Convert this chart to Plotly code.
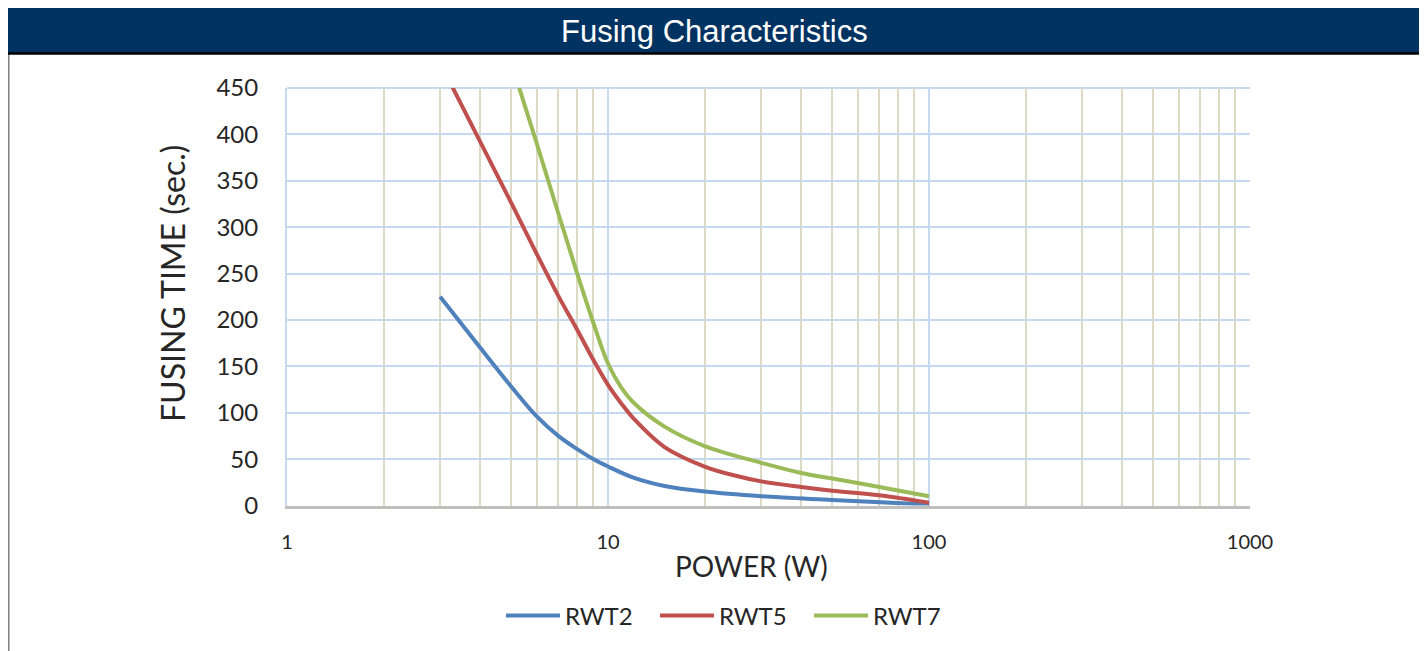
import plotly.graph_objects as go

# ---- data ----
rwt2_x = [3, 4, 5, 6, 7, 8, 9, 10, 12, 15, 20, 30, 50, 100]
rwt2_y = [225, 170, 128, 96, 75, 61, 50, 42, 30, 21, 15, 10, 6, 1]

rwt5_x = [3, 4, 5, 6, 7, 8, 9, 10, 11, 12, 15, 20, 25, 30, 40, 50, 70, 100]
rwt5_y = [477, 392, 326, 271, 226, 190, 157, 130, 110, 94, 63, 42, 32, 26, 20, 16, 11, 3]

rwt7_x = [5, 6, 7, 8, 9, 10, 11, 12, 15, 20, 30, 40, 50, 70, 100]
rwt7_y = [477, 390, 315, 251, 197, 153, 127, 111, 85, 64, 46, 35, 29, 20, 10]

series_names = ["RWT2", "RWT5", "RWT7"]
series_colors = ["#4f81bd", "#c0504d", "#9bbb59"]

x_tick_vals = [1, 10, 100, 1000]
x_tick_text = ["1", "10", "100", "1000"]

title_text = "Fusing Characteristics"
x_title = "POWER (W)"
y_title = "FUSING TIME (sec.)"

# ---- page geometry: the page body has an 8px margin ----
O = 8
W, H = 1427 - O, 651 - O

def px(x):
    return (x - O) / W

def py(y):
    return 1 - (y - O) / H

PLOT_L, PLOT_R, PLOT_T, PLOT_B = 287, 1250, 88, 505.5
FONT = "Lato"

fig = go.Figure()
for xs, ys, name, col in zip([rwt2_x, rwt5_x, rwt7_x], [rwt2_y, rwt5_y, rwt7_y],
                             series_names, series_colors):
    fig.add_trace(go.Scatter(x=xs, y=ys, name=name, mode="lines",
                             line=dict(color=col, width=4, shape="spline", smoothing=1.0)))

fig.update_layout(
    width=W, height=H,
    template="none",
    paper_bgcolor="white", plot_bgcolor="white",
    margin=dict(l=0, r=0, t=0, b=0),
    showlegend=True,
    legend=dict(orientation="h", x=px(501), xanchor="left", y=py(616), yanchor="middle",
                font=dict(family=FONT, size=24, color="#262626"),
                itemwidth=54, entrywidth=85, entrywidthmode="pixels",
                tracegroupgap=0, bgcolor="rgba(0,0,0,0)"),
    xaxis=dict(
        type="log", range=[0, 3], domain=[px(PLOT_L), px(PLOT_R)],
        tickvals=x_tick_vals, ticktext=x_tick_text,
        ticks="outside", ticklen=16, tickcolor="rgba(0,0,0,0)",
        tickfont=dict(family=FONT, size=20, color="#262626"),
        showgrid=True, gridcolor="#c6d9f0", gridwidth=2,
        minor=dict(dtick="D1", showgrid=True, gridcolor="#ddd9c3", gridwidth=2, ticks=""),
        showline=True, linecolor="#bfbfbf", linewidth=3,
        zeroline=False, automargin=False,
    ),
    yaxis=dict(
        range=[0, 450], dtick=50, domain=[py(PLOT_B), py(PLOT_T)],
        ticks="outside", ticklen=22, tickcolor="rgba(0,0,0,0)",
        tickfont=dict(family=FONT, size=24, color="#262626"),
        showgrid=True, gridcolor="#c6d9f0", gridwidth=2,
        showline=True, linecolor="#c6d9f0", linewidth=2,
        zeroline=False, automargin=False,
    ),
    shapes=[
        # outer frame
        dict(type="rect", xref="paper", yref="paper",
             x0=px(8.8), x1=px(1421.5), y0=py(700), y1=py(30),
             line=dict(color="#7f7f7f", width=1.5), fillcolor="rgba(0,0,0,0)", layer="above"),
        # title bar
        dict(type="rect", xref="paper", yref="paper",
             x0=px(5.5), x1=px(1423), y0=py(53.5), y1=py(5.5),
             line=dict(color="black", width=2.5), fillcolor="#003362", layer="above"),
        # top border of plot area
        dict(type="line", xref="paper", yref="paper",
             x0=px(PLOT_L), x1=px(PLOT_R), y0=py(PLOT_T), y1=py(PLOT_T),
             line=dict(color="#c6d9f0", width=2), layer="below"),
    ],
    annotations=[
        dict(text=title_text, xref="paper", yref="paper", x=px(714), y=py(31),
             xanchor="center", yanchor="middle", showarrow=False,
             font=dict(family="Liberation Sans", size=31, color="white")),
        dict(text=x_title, xref="paper", yref="paper", x=px(751), y=py(566),
             xanchor="center", yanchor="middle", showarrow=False,
             font=dict(family=FONT, size=28, color="#262626")),
        dict(text=y_title, xref="paper", yref="paper", x=px(172), y=py(284),
             xanchor="center", yanchor="middle", showarrow=False, textangle=-90,
             font=dict(family=FONT, size=32, color="#262626")),
    ],
)

fig.write_html("out.html")
